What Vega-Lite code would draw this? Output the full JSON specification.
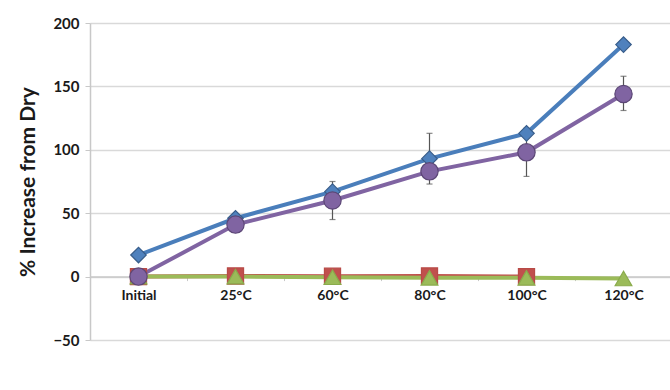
{
  "$schema": "https://vega.github.io/schema/vega-lite/v6.json",
  "autosize": "none",
  "width": 582,
  "height": 317,
  "padding": {"left": 90, "top": 23, "right": 0, "bottom": 50},
  "background": "white",
  "config": {
    "font": "Lato",
    "view": {"stroke": null},
    "axis": {"labelFont": "Lato", "titleFont": "Lato", "labelColor": "#1a1a1a", "titleColor": "#1a1a1a", "labelFontWeight": "bold", "titleFontWeight": "bold"}
  },
  "datasets": {
    "series": [
      {"cat": "Initial", "series": "Mass", "value": 17},
      {"cat": "25°C", "series": "Mass", "value": 46},
      {"cat": "60°C", "series": "Mass", "value": 67},
      {"cat": "80°C", "series": "Mass", "value": 93},
      {"cat": "100°C", "series": "Mass", "value": 113},
      {"cat": "120°C", "series": "Mass", "value": 183},
      {"cat": "Initial", "series": "Length", "value": 0},
      {"cat": "25°C", "series": "Length", "value": 0.5},
      {"cat": "60°C", "series": "Length", "value": 0.3},
      {"cat": "80°C", "series": "Length", "value": 0.5},
      {"cat": "100°C", "series": "Length", "value": 0},
      {"cat": "Initial", "series": "Width", "value": 0},
      {"cat": "25°C", "series": "Width", "value": 0},
      {"cat": "60°C", "series": "Width", "value": -0.5},
      {"cat": "80°C", "series": "Width", "value": -1},
      {"cat": "100°C", "series": "Width", "value": -1},
      {"cat": "120°C", "series": "Width", "value": -1.5},
      {"cat": "Initial", "series": "Thickness", "value": 0},
      {"cat": "25°C", "series": "Thickness", "value": 41},
      {"cat": "60°C", "series": "Thickness", "value": 60},
      {"cat": "80°C", "series": "Thickness", "value": 83},
      {"cat": "100°C", "series": "Thickness", "value": 98},
      {"cat": "120°C", "series": "Thickness", "value": 144}
    ],
    "errors": [
      {"cat": "60°C", "lo": 45, "hi": 75},
      {"cat": "80°C", "lo": 73, "hi": 113},
      {"cat": "100°C", "lo": 79, "hi": 117},
      {"cat": "120°C", "lo": 131, "hi": 158}
    ]
  },
  "encoding": {
    "x": {
      "field": "cat", "type": "nominal",
      "sort": ["Initial", "25°C", "60°C", "80°C", "100°C", "120°C"],
      "scale": {"paddingInner": 0, "paddingOuter": 0},
      "axis": {"title": null, "labelAngle": 0, "labelFontSize": 14, "labelPadding": 8, "offset": -63.4, "domainColor": "#c8c8c8", "domainWidth": 1.5, "tickColor": "#c8c8c8", "tickSize": 4, "tickBand": "extent", "grid": false}
    }
  },
  "layer": [
    {
      "data": {"name": "errors"},
      "mark": {"type": "rule", "color": "#555555", "strokeWidth": 1.2},
      "encoding": {
        "y": {"field": "lo", "type": "quantitative"},
        "y2": {"field": "hi"}
      }
    },
    {
      "data": {"name": "errors"},
      "mark": {"type": "tick", "color": "#555555", "size": 6, "thickness": 1.2, "orient": "horizontal"},
      "encoding": {"y": {"field": "lo", "type": "quantitative"}}
    },
    {
      "data": {"name": "errors"},
      "mark": {"type": "tick", "color": "#555555", "size": 6, "thickness": 1.2, "orient": "horizontal"},
      "encoding": {"y": {"field": "hi", "type": "quantitative"}}
    },
    {
      "data": {"name": "series"},
      "mark": {"type": "line", "strokeWidth": 4},
      "encoding": {
        "y": {
          "field": "value", "type": "quantitative",
          "scale": {"domain": [-50, 200], "nice": false, "zero": false},
          "axis": {"title": "% Increase from Dry", "titleFontSize": 21, "titlePadding": 14, "labelFontSize": 15, "labelPadding": 6, "values": [-50, 0, 50, 100, 150, 200], "gridColor": "#d9d9d9", "gridWidth": 1.5, "domainColor": "#c8c8c8", "domainWidth": 1.5, "tickColor": "#c8c8c8", "tickSize": 5}
        },
        "stroke": {
          "field": "series", "type": "nominal",
          "scale": {"domain": ["Mass", "Length", "Width", "Thickness"], "range": ["#4a7ebb", "#c0504d", "#9bbb59", "#8064a2"]},
          "legend": null
        },
        "order": {"field": "x_order"}
      }
    },
    {
      "data": {"name": "series"},
      "mark": {"type": "point", "filled": true, "opacity": 1, "strokeWidth": 1.2},
      "encoding": {
        "y": {"field": "value", "type": "quantitative"},
        "fill": {
          "field": "series", "type": "nominal",
          "scale": {"domain": ["Mass", "Length", "Width", "Thickness"], "range": ["#4f81bd", "#c0504d", "#9bbb59", "#8064a2"]},
          "legend": {"title": null, "orient": "none", "legendX": 12, "legendY": 275, "direction": "horizontal", "labelFontSize": 22, "labelFontWeight": "bold", "labelFont": "Lato", "labelColor": "#1a1a1a", "symbolSize": 200, "columnPadding": 14, "labelOffset": 4}
        },
        "shape": {
          "field": "series", "type": "nominal",
          "scale": {"domain": ["Mass", "Length", "Width", "Thickness"], "range": ["diamond", "square", "triangle-up", "circle"]},
          "legend": {"title": null, "orient": "none", "legendX": 12, "legendY": 275, "direction": "horizontal", "labelFontSize": 22, "labelFontWeight": "bold", "labelFont": "Lato", "labelColor": "#1a1a1a", "symbolSize": 200, "columnPadding": 14, "labelOffset": 4}
        },
        "stroke": {
          "field": "series", "type": "nominal",
          "scale": {"domain": ["Mass", "Length", "Width", "Thickness"], "range": ["#385d8a", "#b84a47", "#8aab4c", "#5c4776"]},
          "legend": null
        },
        "size": {
          "field": "series", "type": "nominal",
          "scale": {"domain": ["Mass", "Length", "Width", "Thickness"], "range": [240, 300, 260, 330]},
          "legend": null
        }
      }
    }
  ],
  "resolve": {"scale": {"stroke": "independent"}}
}
